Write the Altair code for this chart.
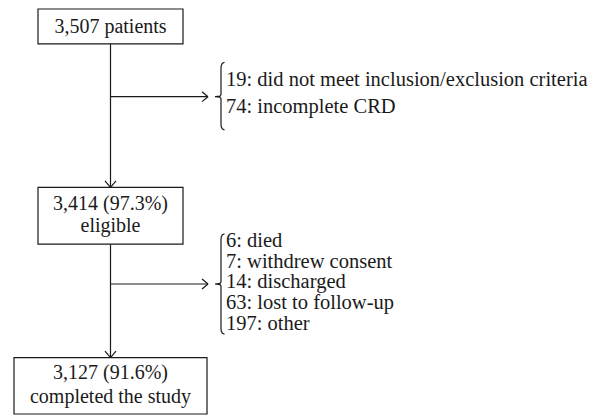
import altair as alt
import pandas as pd

# ---------------- data ----------------
box_lines = [
    ["3,507 patients"],
    ["3,414 (97.3%)", "eligible"],
    ["3,127 (91.6%)", "completed the study"],
]
excl1_counts = [19, 74]
excl1_reasons = ["did not meet inclusion/exclusion criteria", "incomplete CRD"]
excl2_counts = [6, 7, 14, 63, 197]
excl2_reasons = ["died", "withdrew consent", "discharged", "lost to follow-up", "other"]

# ---------------- layout (figure pixel coordinates) ----------------
X0, X1 = 8, 606
Y0, Y1 = 5.5, 414
boxes = [(38, 183, 6.5, 41.5), (38, 183, 185.5, 242.5), (14, 207, 356.5, 413)]
box_baselines = [[31], [208, 230], [378, 402]]
trunk_x = 110.5
branch_y = [94.5, 282.5]
arrow_tip_x = 208
brace_x = 221
brace_spans = [(60, 128), (232, 333)]
list_x = 226
list_baselines = [[84, 111], [245, 266, 287, 308, 329]]
INK = "#1a1a1a"
LW = 1.2
FONT = "Liberation Serif"
FS = 20
FS_LIST = 20.5

xs = alt.Scale(domain=[X0, X1], nice=False, zero=False)
ys = alt.Scale(domain=[Y0, Y1], nice=False, zero=False, reverse=True)

# boxes
box_df = pd.DataFrame([{"x": b[0], "x2": b[1], "y": b[2], "y2": b[3]} for b in boxes])
box_layer = alt.Chart(box_df).mark_rect(fill="white", stroke=INK, strokeWidth=LW).encode(
    x=alt.X("x:Q", scale=xs, axis=None), x2="x2:Q",
    y=alt.Y("y:Q", scale=ys, axis=None), y2="y2:Q",
)

# connector segments
segs = []
segs.append((trunk_x, boxes[0][3], trunk_x, boxes[1][2]))
segs.append((trunk_x, boxes[1][3], trunk_x, boxes[2][2]))
for by in branch_y:
    segs.append((trunk_x, by, arrow_tip_x, by))
    segs.append((arrow_tip_x - 6, by - 5, arrow_tip_x, by))
    segs.append((arrow_tip_x - 6, by + 5, arrow_tip_x, by))
for tip in (boxes[1][2], boxes[2][2]):
    segs.append((trunk_x - 5.5, tip - 6.5, trunk_x, tip))
    segs.append((trunk_x + 5.5, tip - 6.5, trunk_x, tip))
seg_df = pd.DataFrame(segs, columns=["x", "y", "x2", "y2"])
seg_layer = alt.Chart(seg_df).mark_rule(color=INK, strokeWidth=LW).encode(
    x=alt.X("x:Q", scale=xs, axis=None), x2="x2:Q",
    y=alt.Y("y:Q", scale=ys, axis=None), y2="y2:Q",
)

# curly braces
brace_rows = []
for i, ((top, bot), mid) in enumerate(zip(brace_spans, branch_y)):
    pts = [
        (brace_x + 3.5, top), (brace_x + 1.2, top + 1.2), (brace_x + 0.2, top + 3.5),
        (brace_x, top + 6), (brace_x, mid - 2), (brace_x - 1, mid - 0.6), (brace_x - 6, mid),
        (brace_x - 1, mid + 0.6), (brace_x, mid + 2), (brace_x, bot - 6),
        (brace_x + 0.2, bot - 3.5), (brace_x + 1.2, bot - 1.2), (brace_x + 3.5, bot),
    ]
    for k, (px, py) in enumerate(pts):
        brace_rows.append({"b": i, "o": k, "x": px, "y": py})
brace_df = pd.DataFrame(brace_rows)
brace_layer = alt.Chart(brace_df).mark_line(color=INK, strokeWidth=LW).encode(
    x=alt.X("x:Q", scale=xs, axis=None),
    y=alt.Y("y:Q", scale=ys, axis=None),
    detail="b:N", order="o:Q",
)

# box texts
bt = []
for lines, bls, b in zip(box_lines, box_baselines, boxes):
    cx = (b[0] + b[1]) / 2
    for t, bl in zip(lines, bls):
        bt.append({"x": cx, "y": bl, "t": t})
bt_df = pd.DataFrame(bt)
bt_layer = alt.Chart(bt_df).mark_text(
    font=FONT, fontSize=FS, align="center", baseline="alphabetic", color=INK
).encode(
    x=alt.X("x:Q", scale=xs, axis=None), y=alt.Y("y:Q", scale=ys, axis=None), text="t:N"
)

# exclusion lists
lt = []
for counts, reasons, bls in ((excl1_counts, excl1_reasons, list_baselines[0]),
                             (excl2_counts, excl2_reasons, list_baselines[1])):
    for c, r, bl in zip(counts, reasons, bls):
        lt.append({"x": list_x, "y": bl, "t": f"{c}: {r}"})
lt_df = pd.DataFrame(lt)
lt_layer = alt.Chart(lt_df).mark_text(
    font=FONT, fontSize=FS_LIST, align="left", baseline="alphabetic", color=INK
).encode(
    x=alt.X("x:Q", scale=xs, axis=None), y=alt.Y("y:Q", scale=ys, axis=None), text="t:N"
)

chart = alt.layer(seg_layer, box_layer, brace_layer, bt_layer, lt_layer).properties(
    width=X1 - X0, height=407, padding=0, autosize="none"
).configure_view(stroke=None)

chart.save("out.html", embed_options={"renderer": "svg", "actions": False})
